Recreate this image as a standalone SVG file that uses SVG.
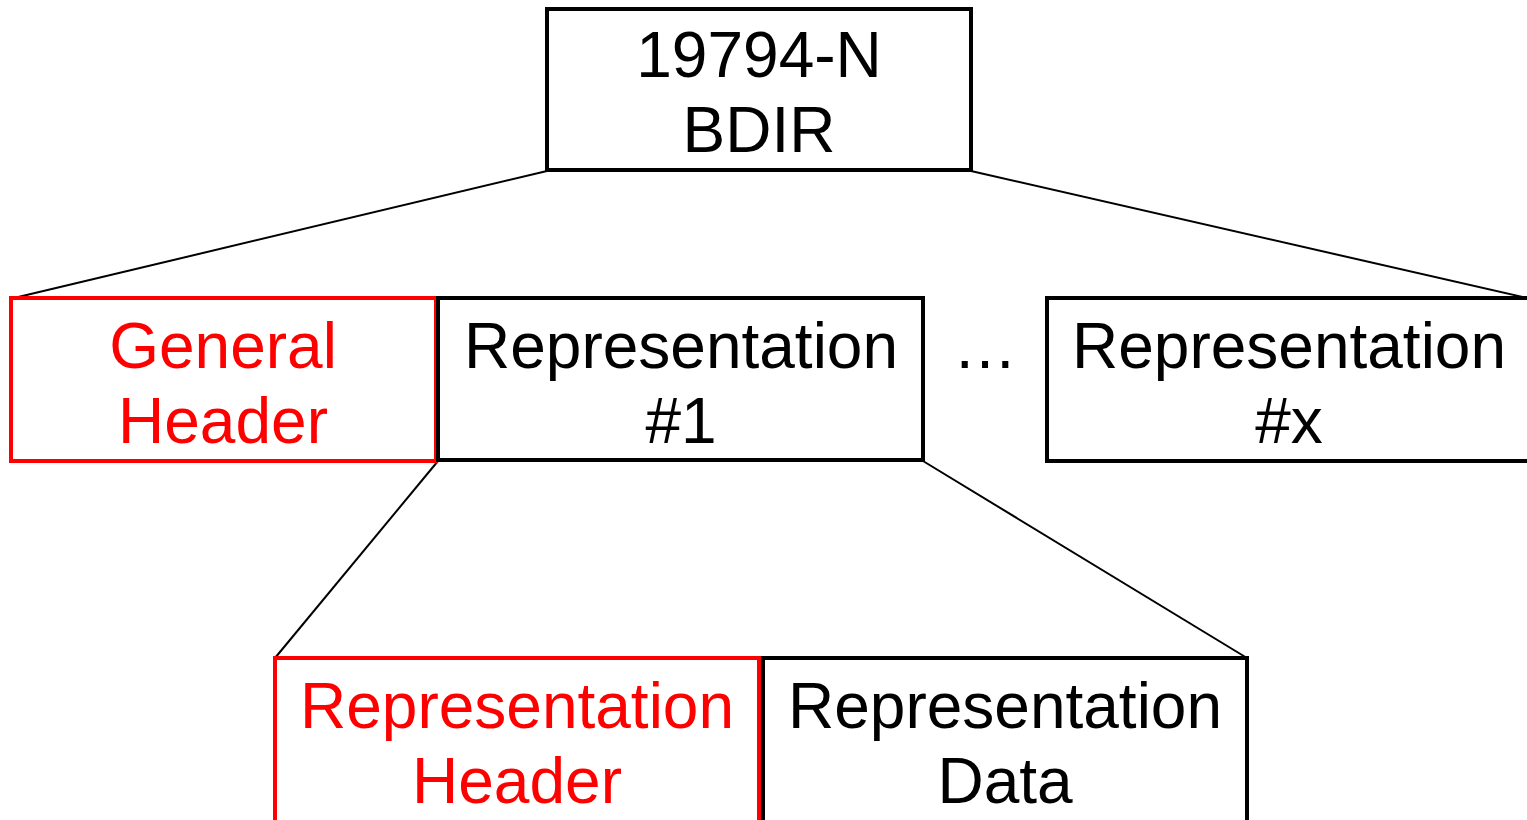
<svg xmlns="http://www.w3.org/2000/svg" width="1527" height="820" viewBox="0 0 1527 820">
<style>
.box{fill:#fff;stroke:#000;stroke-width:4}
.red{stroke:#f00}
.t{font-family:"Liberation Sans",Arial,sans-serif;font-size:64px;text-anchor:middle;fill:#000}
.tr{fill:#f00}
.c{stroke:#000;stroke-width:2;fill:none}
</style>
<rect width="1527" height="820" fill="#fff"/>
<g id="connectors">
<line class="c" x1="547" y1="171" x2="14" y2="298"/>
<line class="c" x1="971" y1="171" x2="1527" y2="298"/>
<line class="c" x1="438" y1="461" x2="275" y2="658"/>
<line class="c" x1="923" y1="461" x2="1247" y2="658"/>
</g>
<g id="bdir">
<rect class="box" x="547" y="9" width="424" height="161"/>
<text class="t" x="759" y="77">19794-N</text>
<text class="t" x="759" y="152">BDIR</text>
</g>
<g id="general-header">
<rect class="box red" x="11" y="298" width="425" height="163"/>
<text class="t tr" x="223" y="368">General</text>
<text class="t tr" x="223" y="443">Header</text>
</g>
<g id="rep1">
<rect class="box" x="438" y="298" width="485" height="162"/>
<text class="t" x="681" y="368">Representation</text>
<text class="t" x="681" y="443">#1</text>
</g>
<g id="ellipsis">
<text class="t" x="985" y="368">…</text>
</g>
<g id="repx">
<rect class="box" x="1047" y="298" width="485" height="163"/>
<text class="t" x="1289" y="368">Representation</text>
<text class="t" x="1289" y="443">#x</text>
</g>
<g id="rep-header">
<rect class="box red" x="275" y="658" width="484" height="165"/>
<text class="t tr" x="517" y="728">Representation</text>
<text class="t tr" x="517" y="803">Header</text>
</g>
<g id="rep-data">
<rect class="box" x="763" y="658" width="484" height="165"/>
<text class="t" x="1005" y="728">Representation</text>
<text class="t" x="1005" y="803">Data</text>
</g>
</svg>
